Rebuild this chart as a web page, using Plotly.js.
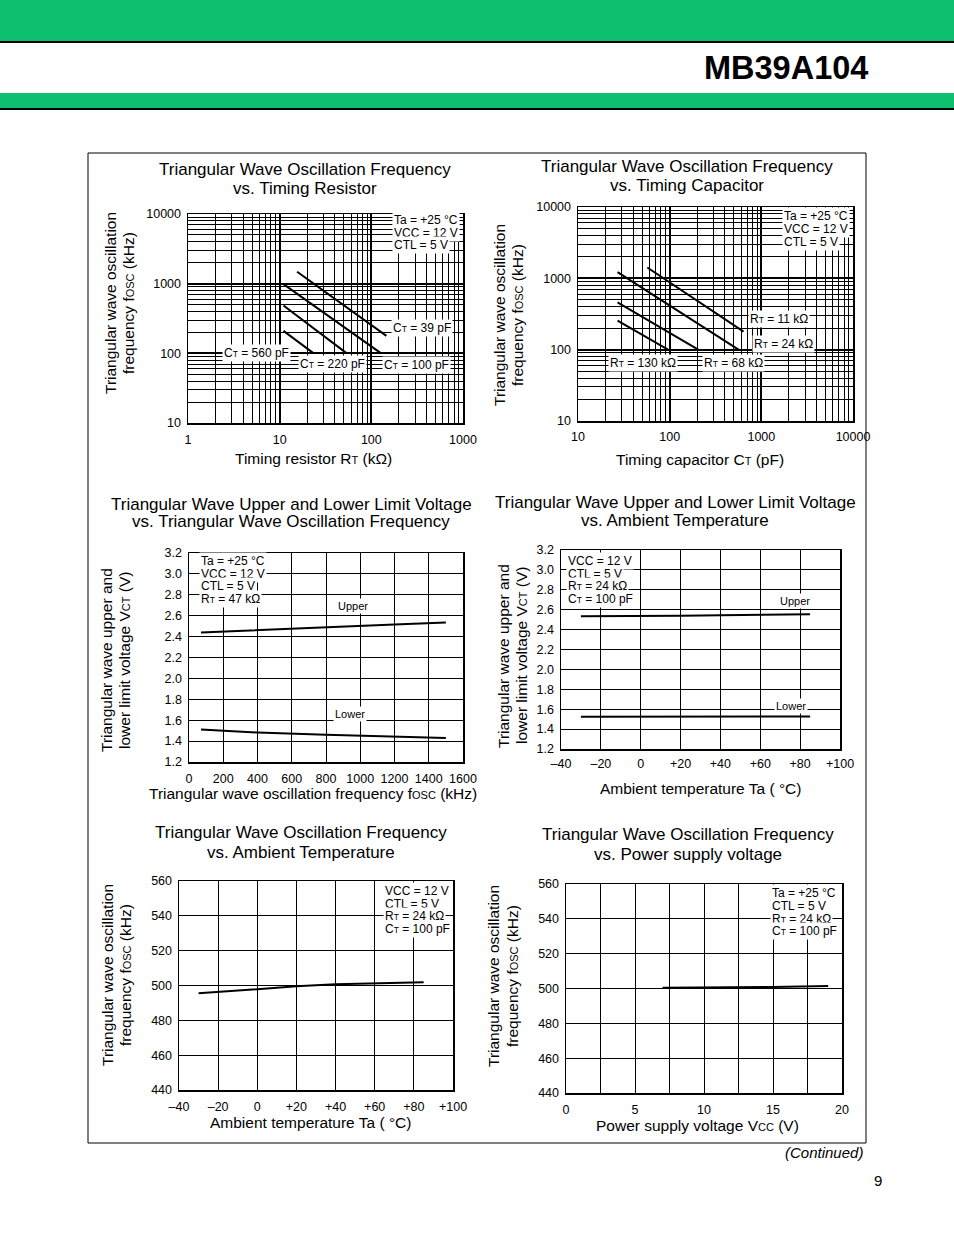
<!DOCTYPE html>
<html>
<head>
<meta charset="utf-8">
<script src="https://cdn.plot.ly/plotly-3.0.1.min.js"></script>
<style>html,body{margin:0;padding:0;background:#fff;}#chart{width:954px;height:1235px;}</style>
</head>
<body>
<div id="chart"></div>
<script>
// ---------- DATA ----------
// Plot 1: fosc vs timing resistor RT (kOhm), per CT
const p1_ct39_rt = [15.5, 146];   const p1_ct39_f = [1480, 178];
const p1_ct100_rt = [11, 128];    const p1_ct100_f = [985, 100];
const p1_ct220_rt = [11, 54];     const p1_ct220_f = [486, 100];
const p1_ct560_rt = [11, 23.5];   const p1_ct560_f = [210, 100];
const p1_xticks = [1, 10, 100, 1000];
const p1_yticks = [10, 100, 1000, 10000];

// Plot 2: fosc vs timing capacitor CT (pF), per RT
const p2_rt11_ct = [57, 640];     const p2_rt11_f = [1420, 179];
const p2_rt24_ct = [27, 580];     const p2_rt24_f = [1220, 98];
const p2_rt68_ct = [27, 205];     const p2_rt68_f = [460, 100];
const p2_rt130_ct = [27, 96];     const p2_rt130_f = [255, 100];
const p2_xticks = [10, 100, 1000, 10000];
const p2_yticks = [10, 100, 1000, 10000];

// Plot 3: VCT vs fosc (kHz)
const p3_fosc = [70, 400, 800, 1200, 1500];
const p3_upper = [2.44, 2.46, 2.49, 2.515, 2.535];
const p3_lower = [1.51, 1.482, 1.46, 1.44, 1.43];

// Plot 4: VCT vs Ta
const p4_ta = [-30, 0, 20, 40, 60, 85];
const p4_upper = [2.535, 2.535, 2.54, 2.545, 2.55, 2.555];
const p4_lower = [1.525, 1.525, 1.525, 1.526, 1.526, 1.526];
const ta_tickvals = [-40, -20, 0, 20, 40, 60, 80, 100];
const ta_ticktext = ['\u201340', '\u201320', '0', '+20', '+40', '+60', '+80', '+100'];

// Plot 5: fosc vs Ta
const p5_ta = [-30, 0, 20, 40, 60, 85];
const p5_fosc = [495.5, 498, 499.5, 500.7, 501.2, 501.8];

// Plot 6: fosc vs VCC
const p6_vcc = [7, 10, 15, 19];
const p6_fosc = [500.5, 500.6, 500.9, 501.5];
const p6_xticks = [0, 5, 10, 15, 20];

// ---------- HELPERS ----------
const W = 954, H = 1235;
const F = 'Liberation Sans, Arial, Helvetica, sans-serif';
const GREEN = '#0dbf6e';
function dx(a, b) { return [a / W, b / W]; }
function dy(top, bot) { return [1 - bot / H, 1 - top / H]; }
function sub(t) { return '<span style="font-size:8.5px">' + t + '</span>'; }
function subL(t) { return '<span style="font-size:11px">' + t + '</span>'; }
function minorLog(lo, hi) { const v = []; for (let d = lo; d < hi; d *= 10) for (let k = 2; k <= 9; k++) v.push(k * d); return v; }

function axis(domain, anchor, extra) {
  return Object.assign({
    domain: domain, anchor: anchor, showline: true, mirror: true, linecolor: '#000', linewidth: 1.5,
    showgrid: true, gridcolor: '#000', gridwidth: 1, zeroline: false, ticks: '',
    tickfont: { family: F, size: 12.5, color: '#000' }, fixedrange: true
  }, extra);
}
function logAxis(domain, anchor, vals, lo, hi, extra) {
  return axis(domain, anchor, Object.assign({
    type: 'log', range: [Math.log10(lo), Math.log10(hi)], tickvals: vals, ticktext: vals.map(String),
    gridwidth: 2,
    minor: { tickvals: minorLog(lo, hi), showgrid: true, gridcolor: '#000', gridwidth: 1, ticks: '' }
  }, extra));
}
function line(x, y, xa, ya) {
  return { x: x, y: y, xaxis: xa, yaxis: ya, type: 'scatter', mode: 'lines', line: { color: '#000', width: 2 }, hoverinfo: 'skip' };
}
function txt(x, y, text, o) {
  return Object.assign({ xref: 'paper', yref: 'paper', x: x / W, y: 1 - y / H, text: text, showarrow: false,
    xanchor: 'left', yanchor: 'middle', font: { family: F, size: 12, color: '#000' } }, o || {});
}
function boxLines(x, y0, step, lines, size) {
  return lines.map((l, i) => txt(x, y0 + i * step, l, { bgcolor: '#fff', borderpad: 1, font: { family: F, size: size || 12, color: '#000' } }));
}
function title(cx, y1, y2, l1, l2) {
  const o = { xanchor: 'center', font: { family: F, size: 17, color: '#000' } };
  return [txt(cx, y1, l1, o), txt(cx, y2, l2, o)];
}
function xt(cx, cy, t) { return txt(cx, cy, t, { xanchor: 'center', font: { family: F, size: 15.5, color: '#000' } }); }
function yt(x1, x2, cy, l1, l2) {
  const o = { xanchor: 'center', textangle: -90, font: { family: F, size: 15.5, color: '#000' } };
  return [txt(x1, cy, l1, o), txt(x2, cy, l2, o)];
}

// ---------- TRACES ----------
const data = [
  line(p1_ct39_rt, p1_ct39_f, 'x', 'y'),
  line(p1_ct100_rt, p1_ct100_f, 'x', 'y'),
  line(p1_ct220_rt, p1_ct220_f, 'x', 'y'),
  line(p1_ct560_rt, p1_ct560_f, 'x', 'y'),
  line(p2_rt11_ct, p2_rt11_f, 'x2', 'y2'),
  line(p2_rt24_ct, p2_rt24_f, 'x2', 'y2'),
  line(p2_rt68_ct, p2_rt68_f, 'x2', 'y2'),
  line(p2_rt130_ct, p2_rt130_f, 'x2', 'y2'),
  line(p3_fosc, p3_upper, 'x3', 'y3'),
  line(p3_fosc, p3_lower, 'x3', 'y3'),
  line(p4_ta, p4_upper, 'x4', 'y4'),
  line(p4_ta, p4_lower, 'x4', 'y4'),
  line(p5_ta, p5_fosc, 'x5', 'y5'),
  line(p6_vcc, p6_fosc, 'x6', 'y6')
];

// ---------- LAYOUT ----------
const CT = 'C' + sub('T'), RT = 'R' + sub('T');
const FOSC = 'frequency f' + subL('OSC') + ' (kHz)';
const VCT = 'lower limit voltage V' + subL('CT') + ' (V)';
const annotations = [
  txt(870, 68, '<b>MB39A104</b>', { xanchor: 'right', font: { family: 'Liberation Sans Narrow, Arial Narrow, Liberation Sans, sans-serif', size: 32.5, color: '#000' } }),
  txt(865, 1152, '<i>(Continued)</i>', { xanchor: 'right', font: { family: F, size: 15, color: '#000' } }),
  txt(878, 1180, '9', { xanchor: 'center', font: { family: F, size: 15, color: '#000' } }),

  ...title(305, 170, 188, 'Triangular Wave Oscillation Frequency', 'vs. Timing Resistor'),
  ...title(687, 166, 186, 'Triangular Wave Oscillation Frequency', 'vs. Timing Capacitor'),
  ...title(291, 504, 522, 'Triangular Wave Upper and Lower Limit Voltage', 'vs. Triangular Wave Oscillation Frequency'),
  ...title(675, 502, 520, 'Triangular Wave Upper and Lower Limit Voltage', 'vs. Ambient Temperature'),
  ...title(301, 832, 852, 'Triangular Wave Oscillation Frequency', 'vs. Ambient Temperature'),
  ...title(688, 834, 854, 'Triangular Wave Oscillation Frequency', 'vs. Power supply voltage'),

  ...yt(110, 128, 303, 'Triangular wave oscillation', FOSC),
  ...yt(499, 517, 315, 'Triangular wave oscillation', FOSC),
  ...yt(106, 124, 660, 'Triangular wave upper and', VCT),
  ...yt(503, 521, 656, 'Triangular wave upper and', VCT),
  ...yt(107, 125, 975, 'Triangular wave oscillation', FOSC),
  ...yt(493, 512, 976, 'Triangular wave oscillation', FOSC),

  xt(313, 459, 'Timing resistor R' + subL('T') + ' (k\u03a9)'),
  xt(700, 460, 'Timing capacitor C' + subL('T') + ' (pF)'),
  xt(313, 793, 'Triangular wave oscillation frequency f' + subL('OSC') + ' (kHz)'),
  xt(700, 789, 'Ambient temperature Ta ( \u00b0C)'),
  xt(310, 1122, 'Ambient temperature Ta ( \u00b0C)'),
  xt(697, 1125, 'Power supply voltage V' + subL('CC') + ' (V)'),

  // plot 1 labels
  ...boxLines(392, 220, 12.5, ['Ta = +25 \u00b0C', 'VCC = 12 V', 'CTL = 5 V']),
  txt(391, 328, CT + ' = 39 pF', { bgcolor: '#fff', borderpad: 1 }),
  txt(222, 353, CT + ' = 560 pF', { bgcolor: '#fff', borderpad: 1 }),
  txt(298, 364, CT + ' = 220 pF', { bgcolor: '#fff', borderpad: 1 }),
  txt(382, 365, CT + ' = 100 pF', { bgcolor: '#fff', borderpad: 1 }),
  // plot 2 labels
  ...boxLines(782, 216, 12.8, ['Ta = +25 \u00b0C', 'VCC = 12 V', 'CTL = 5 V']),
  txt(748, 319, RT + ' = 11 k\u03a9', { bgcolor: '#fff', borderpad: 1 }),
  txt(752, 344, RT + ' = 24 k\u03a9', { bgcolor: '#fff', borderpad: 1 }),
  txt(608, 363, RT + ' = 130 k\u03a9', { bgcolor: '#fff', borderpad: 1 }),
  txt(702, 363, RT + ' = 68 k\u03a9', { bgcolor: '#fff', borderpad: 1 }),
  // plot 3 labels
  ...boxLines(199, 561, 12.6, ['Ta = +25 \u00b0C', 'VCC = 12 V', 'CTL = 5 V', RT + ' = 47 k\u03a9']),
  txt(336, 606, 'Upper', { bgcolor: '#fff', borderpad: 1, font: { family: F, size: 11, color: '#000' } }),
  txt(333, 714, 'Lower', { bgcolor: '#fff', borderpad: 1, font: { family: F, size: 11, color: '#000' } }),
  // plot 4 labels
  ...boxLines(566, 561, 12.5, ['VCC = 12 V', 'CTL = 5 V', RT + ' = 24 k\u03a9', CT + ' = 100 pF']),
  txt(778, 601, 'Upper', { bgcolor: '#fff', borderpad: 1, font: { family: F, size: 11, color: '#000' } }),
  txt(774, 706, 'Lower', { bgcolor: '#fff', borderpad: 1, font: { family: F, size: 11, color: '#000' } }),
  // plot 5 labels
  ...boxLines(383, 891, 12.6, ['VCC = 12 V', 'CTL = 5 V', RT + ' = 24 k\u03a9', CT + ' = 100 pF']),
  // plot 6 labels
  ...boxLines(770, 893, 12.8, ['Ta = +25 \u00b0C', 'CTL = 5 V', RT + ' = 24 k\u03a9', CT + ' = 100 pF'])
];

const shapes = [
  { type: 'rect', xref: 'paper', yref: 'paper', x0: 0, x1: 1, y0: 1 - 41 / H, y1: 1, fillcolor: GREEN, line: { width: 0 }, layer: 'below' },
  { type: 'line', xref: 'paper', yref: 'paper', x0: 0, x1: 1, y0: 1 - 42 / H, y1: 1 - 42 / H, line: { color: '#000', width: 2 } },
  { type: 'rect', xref: 'paper', yref: 'paper', x0: 0, x1: 1, y0: 1 - 108 / H, y1: 1 - 93 / H, fillcolor: GREEN, line: { width: 0 }, layer: 'below' },
  { type: 'line', xref: 'paper', yref: 'paper', x0: 0, x1: 1, y0: 1 - 109 / H, y1: 1 - 109 / H, line: { color: '#000', width: 2 } },
  { type: 'rect', xref: 'paper', yref: 'paper', x0: 88 / W, x1: 866 / W, y0: 1 - 1143 / H, y1: 1 - 153 / H, line: { color: '#000', width: 1 }, layer: 'below' }
];

const layout = {
  width: W, height: H, margin: { l: 0, r: 0, t: 0, b: 0 }, showlegend: false,
  paper_bgcolor: '#fff', plot_bgcolor: '#fff', font: { family: F, color: '#000' },
  xaxis: logAxis(dx(188, 463), 'y', p1_xticks, 1, 1000, { ticklabelstandoff: 4 }),
  yaxis: logAxis(dy(214, 423), 'x', p1_yticks, 10, 10000, { ticklabelstandoff: 3 }),
  xaxis2: logAxis(dx(578, 853), 'y2', p2_xticks, 10, 10000, { ticklabelstandoff: 3 }),
  yaxis2: logAxis(dy(207, 421), 'x2', p2_yticks, 10, 10000, { ticklabelstandoff: 3 }),
  xaxis3: axis(dx(189, 463), 'y3', { range: [0, 1600], dtick: 200, tick0: 0, ticklabelstandoff: 4 }),
  yaxis3: axis(dy(553, 762), 'x3', { range: [1.2, 3.2], dtick: 0.2, tick0: 1.2, tickformat: '.1f', ticklabelstandoff: 3 }),
  xaxis4: axis(dx(561, 840), 'y4', { range: [-40, 100], tickvals: ta_tickvals, ticktext: ta_ticktext, ticklabelstandoff: 2 }),
  yaxis4: axis(dy(550, 749), 'x4', { range: [1.2, 3.2], dtick: 0.2, tick0: 1.2, tickformat: '.1f', ticklabelstandoff: 3 }),
  xaxis5: axis(dx(179, 453), 'y5', { range: [-40, 100], tickvals: ta_tickvals, ticktext: ta_ticktext, ticklabelstandoff: 4 }),
  yaxis5: axis(dy(881, 1090), 'x5', { range: [440, 560], dtick: 20, tick0: 440, ticklabelstandoff: 3 }),
  xaxis6: axis(dx(566, 842), 'y6', { range: [0, 20], tickvals: p6_xticks, ticklabelstandoff: 4,
    minor: { dtick: 2.5, tick0: 0, showgrid: true, gridcolor: '#000', gridwidth: 1, ticks: '' } }),
  yaxis6: axis(dy(884, 1093), 'x6', { range: [440, 560], dtick: 20, tick0: 440, ticklabelstandoff: 3 }),
  annotations: annotations,
  shapes: shapes
};

Plotly.newPlot('chart', data, layout, { displayModeBar: false, staticPlot: true });
</script>
</body>
</html>
